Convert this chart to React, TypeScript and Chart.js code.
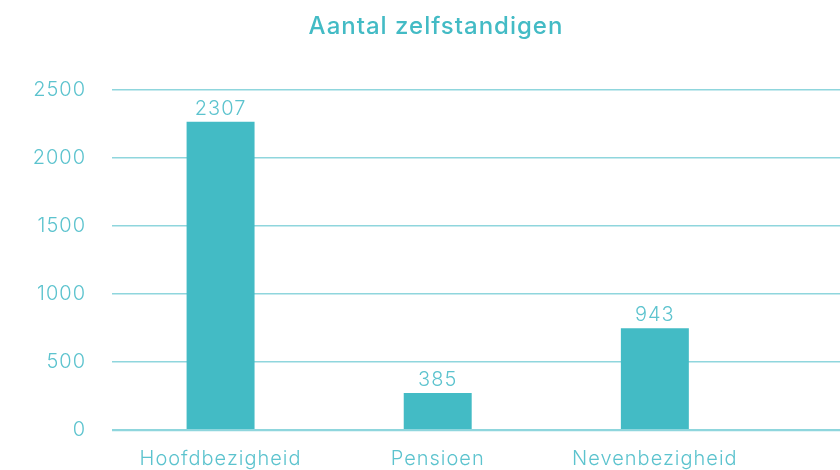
import React, { useEffect, useRef } from "react";
import { Chart, registerables } from "chart.js";

Chart.register(...registerables);

const categories = ["Hoofdbezigheid", "Pensioen", "Nevenbezigheid"];
const barValues = [2265, 271, 748];
const dataLabels = ["2307", "385", "943"];
const yTicks = [0, 500, 1000, 1500, 2000, 2500];
const titleText = "Aantal zelfstandigen";

const TEAL = "#43bbc5";
const TEXT = "#5cc3ce";
const GRID = "#8fd6dd";
const FONT = "Inter, 'Noto Sans', sans-serif";

const spacingPlugin = {
  id: "spacing",
  beforeDraw(chart: any) {
    chart.ctx.letterSpacing = "1px";
  },
  beforeLayout(chart: any) {
    chart.ctx.letterSpacing = "1px";
  },
};

const labelPlugin = {
  id: "barLabels",
  afterDatasetsDraw(chart: any) {
    const ctx = chart.ctx;
    const meta = chart.getDatasetMeta(0);
    ctx.save();
    ctx.font = `300 20px ${FONT}`;
    ctx.fillStyle = TEXT;
    ctx.textAlign = "center";
    ctx.textBaseline = "alphabetic";
    meta.data.forEach((bar: any, i: number) => {
      ctx.fillText(dataLabels[i], bar.x, bar.y - 7);
    });
    ctx.restore();
  },
};

export default function App() {
  const ref = useRef<HTMLCanvasElement>(null);
  useEffect(() => {
    if (!ref.current) return;
    const chart = new Chart(ref.current, {
      type: "bar",
      data: {
        datasets: [
          {
            data: barValues.map((v, i) => ({ x: i, y: v })),
            backgroundColor: TEAL,
            borderWidth: 0,
            categoryPercentage: 1,
            barPercentage: 0.313,
          },
        ],
      },
      plugins: [spacingPlugin, labelPlugin],
      options: {
        animation: false,
        responsive: false,
        maintainAspectRatio: false,
        layout: { padding: 0 },
        plugins: {
          legend: { display: false },
          tooltip: { enabled: false },
          title: {
            display: true,
            text: titleText,
            color: TEAL,
            font: { family: FONT, size: 24, weight: "500" as any, lineHeight: 1.2 },
            padding: { top: 12, bottom: 49 },
          },
        },
        scales: {
          x: {
            type: "linear",
            min: -0.5,
            max: 3,
            offset: false,
            grid: { display: false, drawTicks: false },
            border: { display: false },
            afterBuildTicks: (scale: any) => {
              scale.ticks = categories.map((_, i) => ({ value: i }));
            },
            afterFit: (scale: any) => {
              scale.height = 40;
            },
            ticks: {
              color: TEXT,
              padding: 17,
              font: { family: FONT, size: 20, weight: "300" as any, lineHeight: 1.2 },
              callback: (v: any) => categories[Number(v)] ?? "",
              maxRotation: 0,
              autoSkip: false,
            },
          },
          y: {
            min: 0,
            max: 2500,
            afterBuildTicks: (scale: any) => {
              scale.ticks = yTicks.map((v) => ({ value: v }));
            },
            afterFit: (scale: any) => {
              scale.width = 112;
            },
            grid: {
              color: GRID,
              lineWidth: (c: any) => (c.tick && c.tick.value === 0 ? 2.2 : 1.4),
              drawTicks: false,
            },
            border: { display: false },
            ticks: {
              color: TEXT,
              padding: 26,
              font: { family: FONT, size: 20, weight: "300" as any, lineHeight: 1.2 },
              callback: (v: any) => String(v),
            },
          },
        },
      },
    });
    return () => chart.destroy();
  }, []);
  return (
    <div
      style={{
        position: "fixed",
        left: 0,
        top: 0,
        width: 840,
        height: 470,
        overflow: "hidden",
        background: "#fff",
      }}
    >
      <canvas ref={ref} width={872} height={470} style={{ display: "block" }} />
    </div>
  );
}
